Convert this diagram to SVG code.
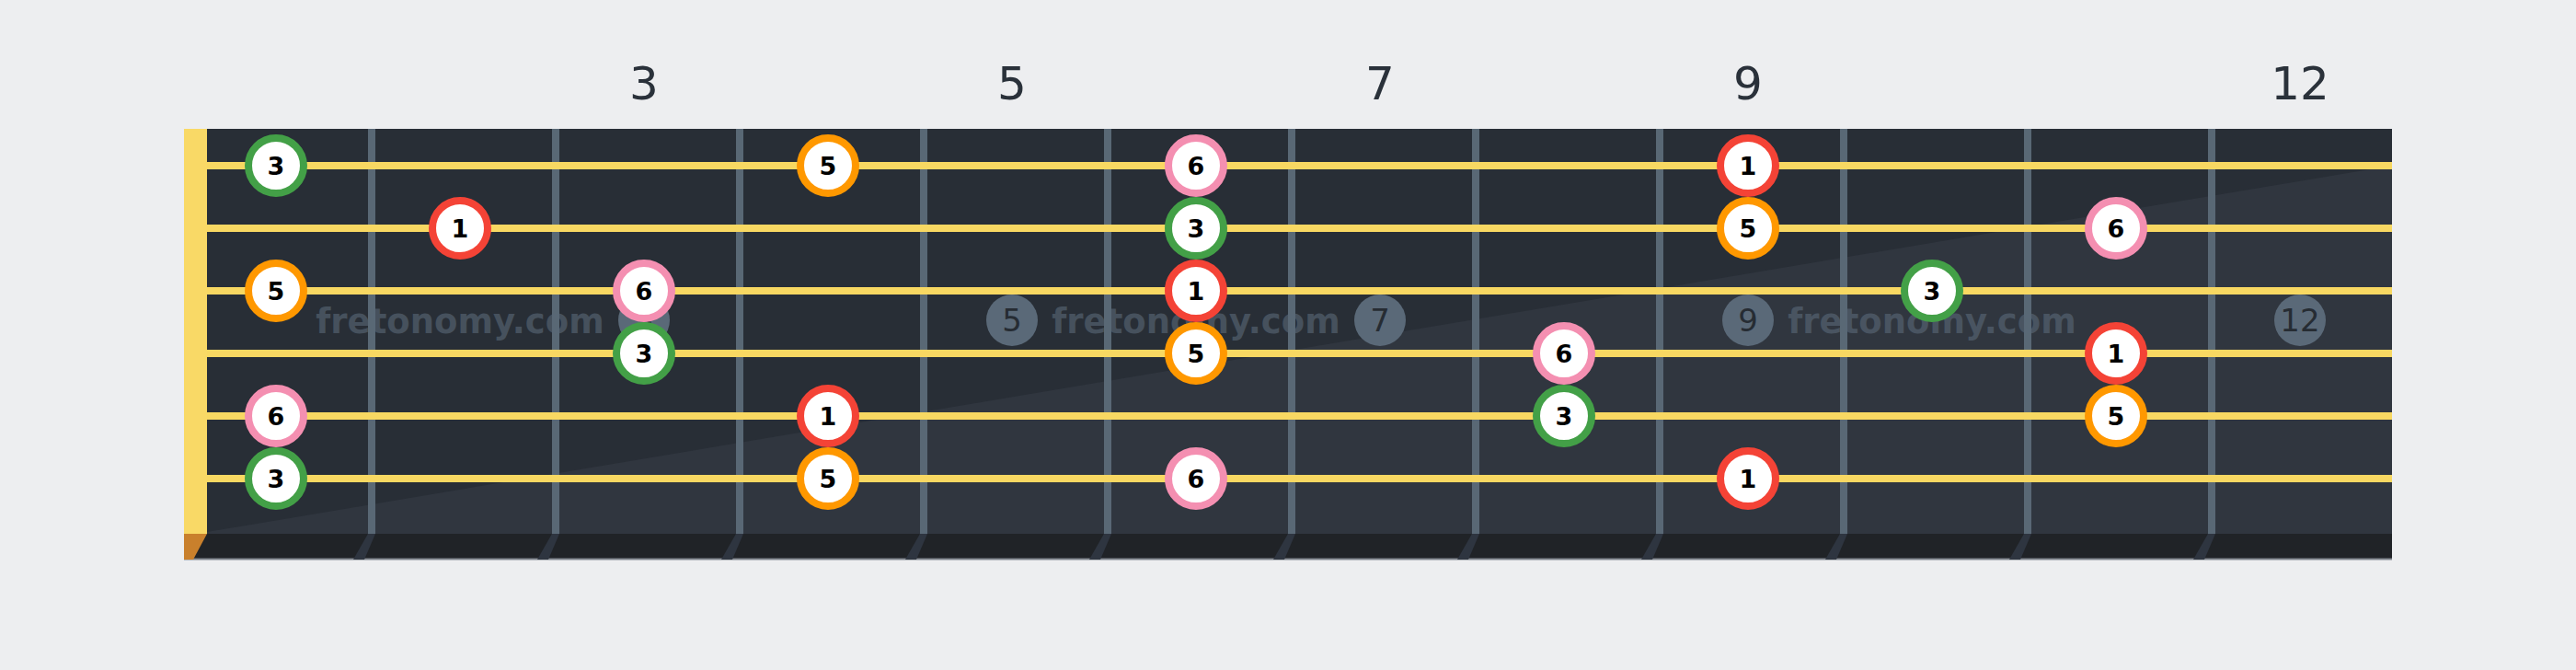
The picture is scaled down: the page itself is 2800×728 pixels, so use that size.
<svg xmlns="http://www.w3.org/2000/svg" width="2800" height="728" viewBox="0 0 2800 728">
<defs>
<style>
.bg{fill:#edeef0}
.board{fill:#282e36}
.shade{fill:#30363f}
.strip{fill:#202327}
.fret{fill:#596875}
.fshadow{fill:#2e3540}
.str{stroke:#f8d862;stroke-width:8}
.nut{fill:#f9d966}
.lbl{font-family:"DejaVu Sans",sans-serif;font-size:50px;fill:#2a313a;text-anchor:middle}
.mk{fill:#5a6978}
.mkt{font-family:"DejaVu Sans",sans-serif;font-size:34px;fill:#262c33;text-anchor:middle}
.wm{font-family:"DejaVu Sans",sans-serif;font-weight:bold;font-size:37px;fill:#5a6978;opacity:0.6;text-anchor:middle}
.n{fill:#ffffff;stroke-width:8}
.g{stroke:#43a047}
.r{stroke:#f44336}
.o{stroke:#ff9800}
.p{stroke:#f48fb1}
.nt{font-family:"DejaVu Sans",sans-serif;font-weight:bold;font-size:27px;fill:#000000;text-anchor:middle}
</style>
</defs>
<rect class="bg" x="0" y="0" width="2800" height="728"/>
<g id="labels">
<text class="lbl" x="700" y="108">3</text>
<text class="lbl" x="1100" y="108">5</text>
<text class="lbl" x="1500" y="108">7</text>
<text class="lbl" x="1900" y="108">9</text>
<text class="lbl" x="2500" y="108">12</text>
</g>
<g id="fretboard">
<rect class="board" x="200" y="140" width="2400" height="440"/>
<polygon class="shade" points="225,578 2600,180 2600,580 225,580"/>
<rect class="strip" x="200" y="580" width="2400" height="28"/>
<rect x="200" y="606.5" width="2400" height="2" fill="#80868e"/>
<polygon points="200,580 225,580 210,608 200,608" fill="#c9802c"/>
<rect class="nut" x="200" y="140" width="25" height="440"/>
</g>
<g id="frets">
<rect class="fret" x="400" y="140" width="8" height="440"/>
<rect class="fret" x="600" y="140" width="8" height="440"/>
<rect class="fret" x="800" y="140" width="8" height="440"/>
<rect class="fret" x="1000" y="140" width="8" height="440"/>
<rect class="fret" x="1200" y="140" width="8" height="440"/>
<rect class="fret" x="1400" y="140" width="8" height="440"/>
<rect class="fret" x="1600" y="140" width="8" height="440"/>
<rect class="fret" x="1800" y="140" width="8" height="440"/>
<rect class="fret" x="2000" y="140" width="8" height="440"/>
<rect class="fret" x="2200" y="140" width="8" height="440"/>
<rect class="fret" x="2400" y="140" width="8" height="440"/>
<polygon class="fshadow" points="400,580 408,580 396,608 384,608"/>
<polygon class="fshadow" points="600,580 608,580 596,608 584,608"/>
<polygon class="fshadow" points="800,580 808,580 796,608 784,608"/>
<polygon class="fshadow" points="1000,580 1008,580 996,608 984,608"/>
<polygon class="fshadow" points="1200,580 1208,580 1196,608 1184,608"/>
<polygon class="fshadow" points="1400,580 1408,580 1396,608 1384,608"/>
<polygon class="fshadow" points="1600,580 1608,580 1596,608 1584,608"/>
<polygon class="fshadow" points="1800,580 1808,580 1796,608 1784,608"/>
<polygon class="fshadow" points="2000,580 2008,580 1996,608 1984,608"/>
<polygon class="fshadow" points="2200,580 2208,580 2196,608 2184,608"/>
<polygon class="fshadow" points="2400,580 2408,580 2396,608 2384,608"/>
</g>
<g id="strings">
<line class="str" x1="225" y1="180" x2="2600" y2="180"/>
<line class="str" x1="225" y1="248" x2="2600" y2="248"/>
<line class="str" x1="225" y1="316" x2="2600" y2="316"/>
<line class="str" x1="225" y1="384" x2="2600" y2="384"/>
<line class="str" x1="225" y1="452" x2="2600" y2="452"/>
<line class="str" x1="225" y1="520" x2="2600" y2="520"/>
</g>
<g id="markers">
<circle class="mk" cx="700" cy="348" r="28"/><text class="mkt" x="700" y="360">3</text>
<circle class="mk" cx="1100" cy="348" r="28"/><text class="mkt" x="1100" y="360">5</text>
<circle class="mk" cx="1500" cy="348" r="28"/><text class="mkt" x="1500" y="360">7</text>
<circle class="mk" cx="1900" cy="348" r="28"/><text class="mkt" x="1900" y="360">9</text>
<circle class="mk" cx="2500" cy="348" r="28"/><text class="mkt" x="2500" y="360">12</text>
</g>
<g id="watermark">
<text class="wm" x="500" y="362">fretonomy.com</text>
<text class="wm" x="1300" y="362">fretonomy.com</text>
<text class="wm" x="2100" y="362">fretonomy.com</text>
</g>
<g id="connectors"></g>
<g id="notes">
<g id="n1-1"><circle class="n g" cx="300" cy="180" r="30"/><text class="nt" x="300" y="190">3</text></g>
<g id="n1-4"><circle class="n o" cx="900" cy="180" r="30"/><text class="nt" x="900" y="190">5</text></g>
<g id="n1-6"><circle class="n p" cx="1300" cy="180" r="30"/><text class="nt" x="1300" y="190">6</text></g>
<g id="n1-9"><circle class="n r" cx="1900" cy="180" r="30"/><text class="nt" x="1900" y="190">1</text></g>
<g id="n2-2"><circle class="n r" cx="500" cy="248" r="30"/><text class="nt" x="500" y="258">1</text></g>
<g id="n2-6"><circle class="n g" cx="1300" cy="248" r="30"/><text class="nt" x="1300" y="258">3</text></g>
<g id="n2-9"><circle class="n o" cx="1900" cy="248" r="30"/><text class="nt" x="1900" y="258">5</text></g>
<g id="n2-11"><circle class="n p" cx="2300" cy="248" r="30"/><text class="nt" x="2300" y="258">6</text></g>
<g id="n3-1"><circle class="n o" cx="300" cy="316" r="30"/><text class="nt" x="300" y="326">5</text></g>
<g id="n3-3"><circle class="n p" cx="700" cy="316" r="30"/><text class="nt" x="700" y="326">6</text></g>
<g id="n3-6"><circle class="n r" cx="1300" cy="316" r="30"/><text class="nt" x="1300" y="326">1</text></g>
<g id="n3-10"><circle class="n g" cx="2100" cy="316" r="30"/><text class="nt" x="2100" y="326">3</text></g>
<g id="n4-3"><circle class="n g" cx="700" cy="384" r="30"/><text class="nt" x="700" y="394">3</text></g>
<g id="n4-6"><circle class="n o" cx="1300" cy="384" r="30"/><text class="nt" x="1300" y="394">5</text></g>
<g id="n4-8"><circle class="n p" cx="1700" cy="384" r="30"/><text class="nt" x="1700" y="394">6</text></g>
<g id="n4-11"><circle class="n r" cx="2300" cy="384" r="30"/><text class="nt" x="2300" y="394">1</text></g>
<g id="n5-1"><circle class="n p" cx="300" cy="452" r="30"/><text class="nt" x="300" y="462">6</text></g>
<g id="n5-4"><circle class="n r" cx="900" cy="452" r="30"/><text class="nt" x="900" y="462">1</text></g>
<g id="n5-8"><circle class="n g" cx="1700" cy="452" r="30"/><text class="nt" x="1700" y="462">3</text></g>
<g id="n5-11"><circle class="n o" cx="2300" cy="452" r="30"/><text class="nt" x="2300" y="462">5</text></g>
<g id="n6-1"><circle class="n g" cx="300" cy="520" r="30"/><text class="nt" x="300" y="530">3</text></g>
<g id="n6-4"><circle class="n o" cx="900" cy="520" r="30"/><text class="nt" x="900" y="530">5</text></g>
<g id="n6-6"><circle class="n p" cx="1300" cy="520" r="30"/><text class="nt" x="1300" y="530">6</text></g>
<g id="n6-9"><circle class="n r" cx="1900" cy="520" r="30"/><text class="nt" x="1900" y="530">1</text></g>
</g>
</svg>
